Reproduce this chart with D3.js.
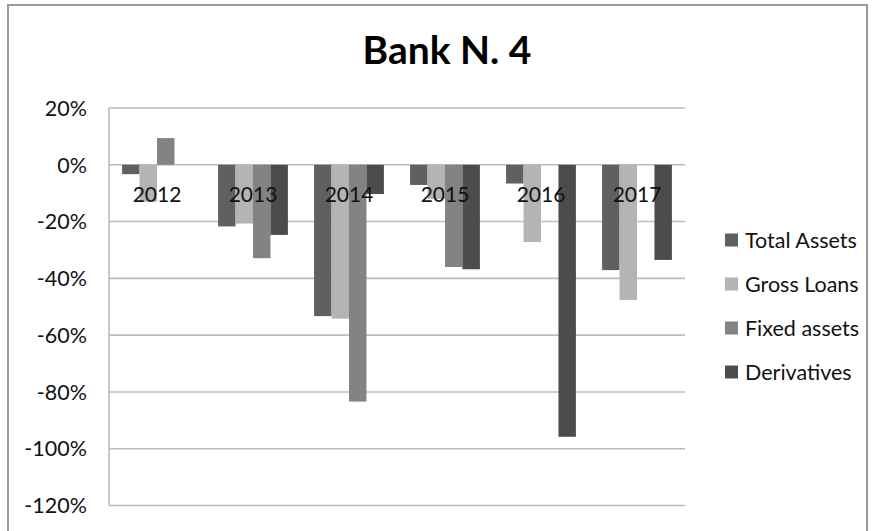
<!DOCTYPE html>
<html>
<head>
<meta charset="utf-8">
<script src="https://cdn.jsdelivr.net/npm/d3@7"></script>
<style>
  html, body { margin: 0; padding: 0; background: #fff; }
  svg { display: block; font-family: Lato, "Open Sans", sans-serif; }
</style>
</head>
<body>
<svg id="chart" width="878" height="531"></svg>
<script>
// Year-over-year change by balance-sheet item (fractions)
const years = ["2012", "2013", "2014", "2015", "2016", "2017"];
const seriesNames = ["Total Assets", "Gross Loans", "Fixed assets", "Derivatives"];
const totalAssets = [-0.033, -0.217, -0.533, -0.071, -0.066, -0.371];
const grossLoans  = [-0.130, -0.207, -0.542, -0.120, -0.272, -0.476];
const fixedAssets = [ 0.094, -0.329, -0.834, -0.360,  0.000,  0.000];
const derivatives = [ 0.000, -0.247, -0.103, -0.368, -0.958, -0.335];
const seriesColors = ["#606060", "#b4b4b4", "#838383", "#4c4c4c"];
const yTicks = [0.2, 0, -0.2, -0.4, -0.6, -0.8, -1.0, -1.2];
const titleText = "Bank N. 4";

const seriesValues = [totalAssets, grossLoans, fixedAssets, derivatives];
const rows = years.map((yr, i) => ({
  year: yr,
  values: seriesNames.map((s, k) => ({ key: s, value: seriesValues[k][i], color: seriesColors[k] }))
}));

const svg = d3.select("#chart");
const plot = { left: 109, right: 685, top: 108, bottom: 505.5 };

// chart area frame
svg.append("rect")
  .attr("x", 8).attr("y", 5)
  .attr("width", 859).attr("height", 540)
  .attr("fill", "#fff")
  .attr("stroke", "#9a9a9a").attr("stroke-width", 2);

const x0 = d3.scaleBand().domain(years).range([plot.left, plot.right]).padding(0);
const x1 = d3.scaleBand().domain(seriesNames).range([0, x0.bandwidth()])
  .paddingInner(0).paddingOuter(0.75);
const y = d3.scaleLinear().domain([-1.2, 0.2]).range([plot.bottom, plot.top]);

// horizontal gridlines
svg.append("g")
  .selectAll("line")
  .data(yTicks)
  .join("line")
  .attr("x1", plot.left).attr("x2", plot.right)
  .attr("y1", d => y(d)).attr("y2", d => y(d))
  .attr("stroke", "#bcbcbc").attr("stroke-width", 1.6);

// value axis line
svg.append("line")
  .attr("x1", plot.left).attr("x2", plot.left)
  .attr("y1", y(0.2)).attr("y2", y(-1.2))
  .attr("stroke", "#bcbcbc").attr("stroke-width", 1.6);

// y tick labels
const fmt = d3.format(".0%");
svg.append("g")
  .selectAll("text")
  .data(yTicks)
  .join("text")
  .attr("x", 87)
  .attr("y", d => y(d))
  .attr("dy", "0.36em")
  .attr("text-anchor", "end")
  .attr("font-size", 21.5)
  .attr("fill", "#111")
  .text(d => fmt(d).replace("−", "-"));

// bars
const groups = svg.append("g")
  .selectAll("g")
  .data(rows)
  .join("g")
  .attr("transform", d => `translate(${x0(d.year)},0)`);

groups.selectAll("rect")
  .data(d => d.values.filter(v => v.value !== 0))
  .join("rect")
  .attr("x", d => x1(d.key))
  .attr("width", x1.bandwidth())
  .attr("y", d => y(Math.max(0, d.value)))
  .attr("height", d => Math.abs(y(d.value) - y(0)))
  .attr("fill", d => d.color);

// category labels sit just below the zero line, over the bars
svg.append("g")
  .selectAll("text")
  .data(years)
  .join("text")
  .attr("x", d => x0(d) + x0.bandwidth() / 2)
  .attr("y", y(0) + 37.5)
  .attr("text-anchor", "middle")
  .attr("font-size", 21)
  .attr("fill", "#111")
  .text(d => d);

// title
svg.append("text")
  .attr("x", 447)
  .attr("y", 64)
  .attr("text-anchor", "middle")
  .attr("font-size", 39)
  .attr("font-weight", "bold")
  .attr("fill", "#000")
  .text(titleText);

// legend
const legend = svg.append("g")
  .selectAll("g")
  .data(seriesNames)
  .join("g")
  .attr("transform", (d, i) => `translate(725,${240 + i * 44})`);

legend.append("rect")
  .attr("x", 0).attr("y", -6.5)
  .attr("width", 13).attr("height", 13)
  .attr("fill", (d, i) => seriesColors[i]);

legend.append("text")
  .attr("x", 20)
  .attr("y", 0)
  .attr("dy", "0.36em")
  .attr("font-size", 21.5)
  .attr("fill", "#111")
  .text(d => d);
</script>
</body>
</html>
